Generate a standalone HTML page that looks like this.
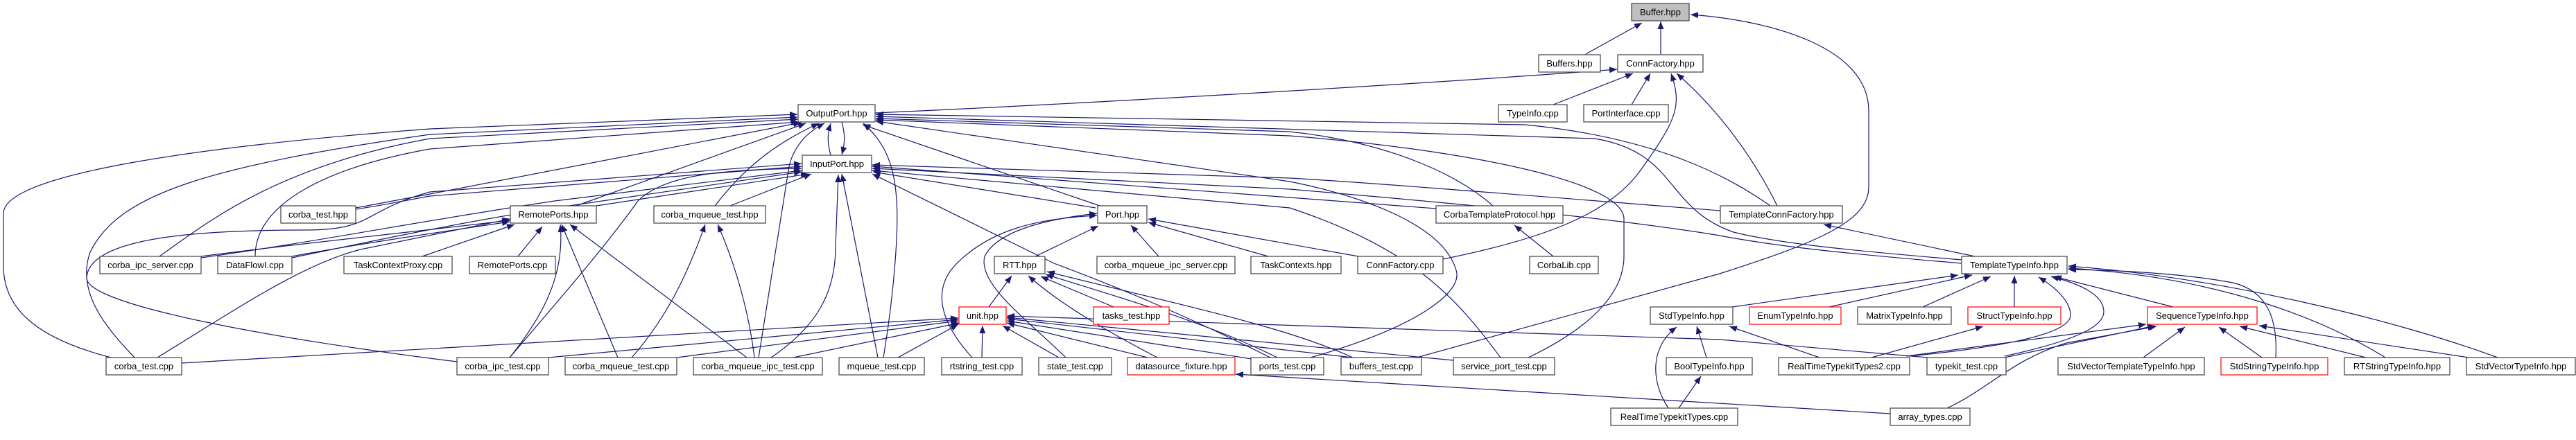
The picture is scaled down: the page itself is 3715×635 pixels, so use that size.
<!DOCTYPE html>
<html><head><meta charset="utf-8"><style>
html,body{margin:0;padding:0;background:#fff}
svg{display:block}
text{font-family:"Liberation Sans",Arial,sans-serif;font-size:13px;fill:#000;text-anchor:middle}
.e{fill:none;stroke:#191970;stroke-width:1.2;marker-end:url(#a)}
.n{fill:#fff;stroke:#404040;stroke-width:1.2}
.r{fill:#fff;stroke:#ff0000;stroke-width:1.2}
</style></head><body>
<svg width="3715" height="635" viewBox="0 0 3715 635" xmlns="http://www.w3.org/2000/svg">
<defs><marker id="a" markerUnits="userSpaceOnUse" markerWidth="12" markerHeight="10" refX="11" refY="4.5" orient="auto"><path d="M0,0 L11,4.5 L0,9 z" fill="#191970"/></marker></defs>
<g>
<!-- Buffer -->
<path class="e" d="M2287,78 L2368,33"/>
<path class="e" d="M2395,78 L2395,31"/>
<path class="e" d="M2043,516 L2480,395 C2620,350 2695,320 2695,270 L2695,160 C2695,70 2560,30 2438,21"/>
<!-- ConnFactory -->
<path class="e" d="M1262,163 C1600,148 2100,118 2332,100"/>
<path class="e" d="M2240,151 L2355,106"/>
<path class="e" d="M2353,151 L2380,106"/>
<path class="e" d="M2081,374 C2250,340 2330,300 2370,240 C2420,170 2425,150 2410,106"/>
<path class="e" d="M2563,297 C2530,230 2480,160 2418,106"/>
<!-- OutputPort / InputPort -->
<path class="e" d="M1198,224 C1193,205 1193,195 1198,178"/>
<path class="e" d="M1214,176 C1219,195 1219,205 1214,223"/>
<path class="e" d="M160,516 C60,490 5,450 5,384 L5,308 C5,250 300,210 620,186 L1150,165"/>
<path class="e" d="M194,516 C150,470 110,420 130,364 C170,280 300,240 620,194 L1150,169"/>
<path class="e" d="M230,370 C300,320 400,240 620,200 L1151,172"/>
<path class="e" d="M368,370 C368,290 480,240 620,215 L1152,176"/>
<path class="e" d="M513,300 L620,280 L1155,177"/>
<path class="e" d="M513,302 C560,295 580,290 620,283 L1156,240"/>
<path class="e" d="M831,297 L1162,178"/>
<path class="e" d="M860,297 L1166,251"/>
<path class="e" d="M1031,297 C1060,260 1100,215 1181,178"/>
<path class="e" d="M1053,297 L1170,251"/>
<path class="e" d="M1094,516 L1138,240 C1145,210 1165,190 1189,178"/>
<path class="e" d="M735,516 C800,440 870,360 920,290 C960,250 1050,245 1156,243"/>
<path class="e" d="M1274,516 C1290,420 1296,330 1293,290 C1290,230 1270,200 1245,178"/>
<path class="e" d="M1266,516 L1214,251"/>
<path class="e" d="M1586,297 L1244,180"/>
<path class="e" d="M1580,300 L1259,248"/>
<path class="e" d="M659,522 C400,490 120,440 125,400 C130,340 300,332 440,332 C540,332 520,305 620,277 L1156,236"/>
<path class="e" d="M290,372 C450,350 600,320 800,290 L1156,246"/>
<path class="e" d="M421,372 C550,345 680,318 800,300 L1156,248"/>
<path class="e" d="M1832,516 C1700,450 1600,410 1520,380 L1258,251"/>
<path class="e" d="M2553,297 C2500,260 2400,200 2200,180 L1263,165"/>
<path class="e" d="M2829,375 C2650,360 2560,350 2500,335 C2400,300 2420,220 2300,200 L1263,168"/>
<path class="e" d="M2153,297 C2100,250 2000,205 1860,190 L1263,171"/>
<path class="e" d="M2204,516 C2300,470 2342,420 2342,370 L2342,316 C2342,260 2100,215 1860,196 L1263,173"/>
<path class="e" d="M1890,516 C2050,470 2110,420 2100,390 C2080,320 1950,280 1860,262 L1263,175"/>
<path class="e" d="M2071,301 L1860,285 L1258,240"/>
<path class="e" d="M2481,304 C2300,290 2000,265 1860,257 L1258,238"/>
<path class="e" d="M2829,380 C2650,365 2560,355 2480,340 C2300,310 2000,285 1860,273 L1258,243"/>
<path class="e" d="M2164,516 C2100,430 2040,360 1860,300 L1258,246"/>
<!-- RemotePorts -->
<path class="e" d="M290,370 C400,355 550,340 735,318"/>
<path class="e" d="M421,370 C500,355 600,340 735,320"/>
<path class="e" d="M227,516 C350,440 440,380 520,360 L736,316"/>
<path class="e" d="M609,370 L742,324"/>
<path class="e" d="M747,370 L782,327"/>
<path class="e" d="M735,516 C780,460 815,400 808,324"/>
<path class="e" d="M891,516 L810,324"/>
<path class="e" d="M1077,516 L822,324"/>
<path class="e" d="M911,516 C960,460 990,400 1017,324"/>
<path class="e" d="M1088,516 C1080,450 1060,380 1035,324"/>
<path class="e" d="M1112,516 C1180,470 1205,420 1205,356 L1209,252"/>
<!-- Port -->
<path class="e" d="M1402,516 C1360,470 1340,420 1380,380 C1430,330 1500,315 1582,311"/>
<path class="e" d="M1537,516 C1480,460 1410,410 1420,370 C1440,330 1520,315 1582,308"/>
<path class="e" d="M1493,370 L1584,326"/>
<path class="e" d="M1671,370 L1631,325"/>
<path class="e" d="M1829,370 L1656,321"/>
<path class="e" d="M1959,370 L1656,316"/>
<!-- RTT -->
<path class="e" d="M1426,443 L1459,398"/>
<path class="e" d="M1606,443 L1501,399"/>
<path class="e" d="M1669,516 C1600,480 1530,440 1483,398"/>
<path class="e" d="M1842,516 C1750,470 1650,440 1508,396"/>
<path class="e" d="M1951,516 C1850,470 1700,440 1510,392"/>
<!-- unit -->
<path class="e" d="M262,524 L1382,459"/>
<path class="e" d="M791,516 L1382,461"/>
<path class="e" d="M976,516 L1382,463"/>
<path class="e" d="M1144,516 L1384,466"/>
<path class="e" d="M1295,516 L1382,468"/>
<path class="e" d="M1416,516 L1417,470"/>
<path class="e" d="M1527,516 L1446,470"/>
<path class="e" d="M1655,516 L1452,466"/>
<path class="e" d="M1805,518 L1452,463"/>
<path class="e" d="M1951,516 L1452,460"/>
<path class="e" d="M2096,520 L1452,458"/>
<path class="e" d="M2780,516 L2480,490 L1452,456"/>
<!-- CorbaTemplateProtocol -->
<path class="e" d="M2240,370 L2184,325"/>
<!-- TemplateConnFactory -->
<path class="e" d="M2848,370 L2630,324"/>
<!-- TemplateTypeInfo -->
<path class="e" d="M2498,443 L2824,397"/>
<path class="e" d="M2638,443 L2844,397"/>
<path class="e" d="M2773,443 L2871,399"/>
<path class="e" d="M2905,443 L2905,398"/>
<path class="e" d="M2753,514 C2900,500 2986,480 2986,455 C2986,435 2965,415 2940,400"/>
<path class="e" d="M2891,514 C3000,490 3034,470 3034,450 C3034,425 3000,410 2958,399"/>
<path class="e" d="M3134,443 L2962,399"/>
<path class="e" d="M3282,516 C3285,460 3270,420 3220,408 C3150,395 3060,390 2983,389"/>
<path class="e" d="M3440,516 C3350,460 3200,400 2983,387"/>
<path class="e" d="M3602,516 C3450,460 3200,400 2983,384"/>
<!-- StdTypeInfo / Bool / Struct -->
<path class="e" d="M2461,516 L2447,471"/>
<path class="e" d="M2406,589 C2380,550 2380,500 2418,472"/>
<path class="e" d="M2624,516 L2494,471"/>
<path class="e" d="M2421,589 L2453,543"/>
<path class="e" d="M2699,516 L2860,471"/>
<!-- SequenceTypeInfo -->
<path class="e" d="M2749,514 L3095,468"/>
<path class="e" d="M2891,516 L3108,470"/>
<path class="e" d="M2808,589 C2870,560 2900,520 2980,495 L3110,471"/>
<path class="e" d="M3091,516 L3151,472"/>
<path class="e" d="M3262,516 L3200,472"/>
<path class="e" d="M3412,516 L3230,471"/>
<path class="e" d="M3560,516 L3258,470"/>
<!-- datasource_fixture -->
<path class="e" d="M2726,597 L1782,540"/>
</g>
<g>
<rect x="2353" y="5" width="83" height="25" fill="#bfbfbf" stroke="#404040" stroke-width="1.2"/><text x="2394.5" y="22">Buffer.hpp</text>
<rect class="n" x="2219" y="79" width="89" height="25"/><text x="2263.5" y="96">Buffers.hpp</text>
<rect class="n" x="2333" y="79" width="123" height="25"/><text x="2394.5" y="96">ConnFactory.hpp</text>
<rect class="n" x="1151" y="151" width="111" height="25"/><text x="1206.5" y="168">OutputPort.hpp</text>
<rect class="n" x="2161" y="151" width="99" height="25"/><text x="2210.5" y="168">TypeInfo.cpp</text>
<rect class="n" x="2284" y="151" width="122" height="25"/><text x="2345" y="168">PortInterface.cpp</text>
<rect class="n" x="1157" y="224" width="100" height="25"/><text x="1207" y="241">InputPort.hpp</text>
<rect class="n" x="405" y="297" width="108" height="25"/><text x="459" y="314">corba_test.hpp</text>
<rect class="n" x="736" y="297" width="124" height="25"/><text x="798" y="314">RemotePorts.hpp</text>
<rect class="n" x="943" y="297" width="161" height="25"/><text x="1023.5" y="314">corba_mqueue_test.hpp</text>
<rect class="n" x="1583" y="297" width="71" height="25"/><text x="1618.5" y="314">Port.hpp</text>
<rect class="n" x="2071" y="297" width="183" height="25"/><text x="2162.5" y="314">CorbaTemplateProtocol.hpp</text>
<rect class="n" x="2481" y="297" width="176" height="25"/><text x="2569" y="314">TemplateConnFactory.hpp</text>
<rect class="n" x="144" y="370" width="146" height="25"/><text x="217" y="387">corba_ipc_server.cpp</text>
<rect class="n" x="314" y="370" width="107" height="25"/><text x="367.5" y="387">DataFlowI.cpp</text>
<rect class="n" x="496" y="370" width="156" height="25"/><text x="574" y="387">TaskContextProxy.cpp</text>
<rect class="n" x="677" y="370" width="124" height="25"/><text x="739" y="387">RemotePorts.cpp</text>
<rect class="n" x="1434" y="370" width="73" height="25"/><text x="1470.5" y="387">RTT.hpp</text>
<rect class="n" x="1582" y="370" width="199" height="25"/><text x="1681.5" y="387">corba_mqueue_ipc_server.cpp</text>
<rect class="n" x="1804" y="370" width="130" height="25"/><text x="1869" y="387">TaskContexts.hpp</text>
<rect class="n" x="1958" y="370" width="123" height="25"/><text x="2019.5" y="387">ConnFactory.cpp</text>
<rect class="n" x="2206" y="370" width="99" height="25"/><text x="2255.5" y="387">CorbaLib.cpp</text>
<rect class="n" x="2829" y="370" width="152" height="25"/><text x="2905" y="387">TemplateTypeInfo.hpp</text>
<rect class="r" x="1383" y="443" width="68" height="25"/><text x="1417" y="460">unit.hpp</text>
<rect class="r" x="1577" y="443" width="109" height="25"/><text x="1631.5" y="460">tasks_test.hpp</text>
<rect class="n" x="2380" y="443" width="119" height="25"/><text x="2439.5" y="460">StdTypeInfo.hpp</text>
<rect class="r" x="2523" y="443" width="132" height="25"/><text x="2589" y="460">EnumTypeInfo.hpp</text>
<rect class="n" x="2679" y="443" width="135" height="25"/><text x="2746.5" y="460">MatrixTypeInfo.hpp</text>
<rect class="r" x="2838" y="443" width="134" height="25"/><text x="2905" y="460">StructTypeInfo.hpp</text>
<rect class="r" x="3097" y="443" width="158" height="25"/><text x="3176" y="460">SequenceTypeInfo.hpp</text>
<rect class="n" x="153" y="516" width="109" height="25"/><text x="207.5" y="533">corba_test.cpp</text>
<rect class="n" x="659" y="516" width="132" height="25"/><text x="725" y="533">corba_ipc_test.cpp</text>
<rect class="n" x="815" y="516" width="161" height="25"/><text x="895.5" y="533">corba_mqueue_test.cpp</text>
<rect class="n" x="1000" y="516" width="186" height="25"/><text x="1093" y="533">corba_mqueue_ipc_test.cpp</text>
<rect class="n" x="1210" y="516" width="123" height="25"/><text x="1271.5" y="533">mqueue_test.cpp</text>
<rect class="n" x="1358" y="516" width="116" height="25"/><text x="1416" y="533">rtstring_test.cpp</text>
<rect class="n" x="1498" y="516" width="105" height="25"/><text x="1550.5" y="533">state_test.cpp</text>
<rect class="r" x="1626" y="516" width="155" height="25"/><text x="1703.5" y="533">datasource_fixture.hpp</text>
<rect class="n" x="1804" y="516" width="105" height="25"/><text x="1856.5" y="533">ports_test.cpp</text>
<rect class="n" x="1934" y="516" width="116" height="25"/><text x="1992" y="533">buffers_test.cpp</text>
<rect class="n" x="2096" y="516" width="146" height="25"/><text x="2169" y="533">service_port_test.cpp</text>
<rect class="n" x="2403" y="516" width="124" height="25"/><text x="2465" y="533">BoolTypeInfo.hpp</text>
<rect class="n" x="2565" y="516" width="189" height="25"/><text x="2659.5" y="533">RealTimeTypekitTypes2.cpp</text>
<rect class="n" x="2779" y="516" width="114" height="25"/><text x="2836" y="533">typekit_test.cpp</text>
<rect class="n" x="2968" y="516" width="211" height="25"/><text x="3073.5" y="533">StdVectorTemplateTypeInfo.hpp</text>
<rect class="r" x="3203" y="516" width="154" height="25"/><text x="3280" y="533">StdStringTypeInfo.hpp</text>
<rect class="n" x="3381" y="516" width="152" height="25"/><text x="3457" y="533">RTStringTypeInfo.hpp</text>
<rect class="n" x="3557" y="516" width="157" height="25"/><text x="3635.5" y="533">StdVectorTypeInfo.hpp</text>
<rect class="n" x="2323" y="589" width="183" height="25"/><text x="2414.5" y="606">RealTimeTypekitTypes.cpp</text>
<rect class="n" x="2726" y="589" width="115" height="25"/><text x="2783.5" y="606">array_types.cpp</text>
</g>
</svg>
</body></html>
